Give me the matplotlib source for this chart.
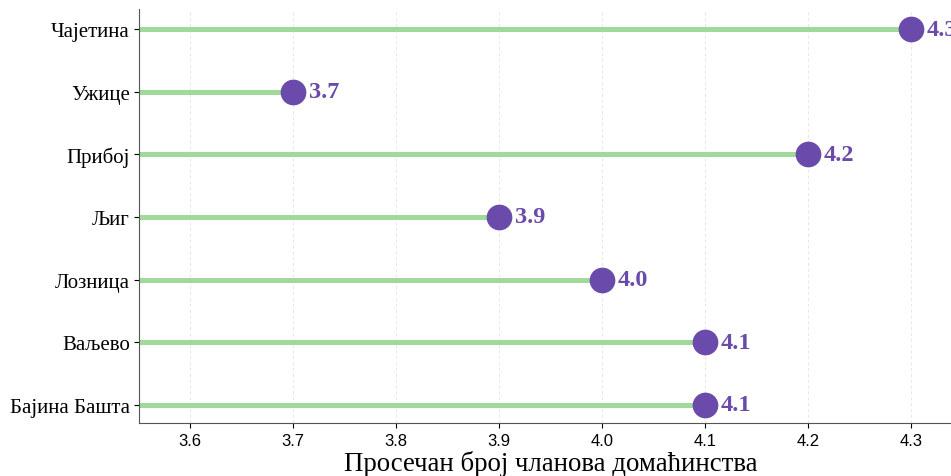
import matplotlib.pyplot as plt

towns = ["Бајина Башта", "Ваљево", "Лозница", "Љиг", "Прибој", "Ужице", "Чајетина"]
avg_members = [4.1, 4.1, 4.0, 3.9, 4.2, 3.7, 4.3]
xticks = [3.6, 3.7, 3.8, 3.9, 4.0, 4.1, 4.2, 4.3]

green = "#a1d99b"
purple = "#6a4aaa"

fig = plt.figure(figsize=(9.51, 4.77), dpi=100)
# the plot area runs a little past the right edge of the figure, as in the original
ax = fig.add_axes([0.1462, 0.1111, 0.8665, 0.868])

ypos = list(range(len(towns)))
ax.hlines(ypos, 0, avg_members, color=green, linewidth=3.6, zorder=2)
ax.plot(avg_members, ypos, "o", color=purple, markersize=17.5, zorder=3)

for v, y in zip(avg_members, ypos):
    ax.annotate(f"{v:.1f}", (v, y), xytext=(11.5, 0), textcoords="offset points",
                va="center", ha="left", color=purple, fontsize=17.5,
                fontweight="bold", family="Liberation Serif", clip_on=False)

ax.set_xlim(3.5505, 4.3505)
ax.set_ylim(-0.29, 6.32)
ax.set_xticks(xticks)
ax.set_xticklabels([f"{t:.1f}" for t in xticks], family="Liberation Sans", fontsize=12)
ax.set_yticks(ypos)
ax.set_yticklabels(towns, family="Liberation Serif", fontsize=15)
ax.tick_params(axis="x", pad=4)
ax.tick_params(axis="y", pad=3)
ax.grid(axis="x", linestyle=(0, (3, 3)), color="#e6e6e6", linewidth=0.7, zorder=0)
ax.set_axisbelow(True)

for s in ["top", "right"]:
    ax.spines[s].set_visible(False)
ax.spines["left"].set_color("#555555")
ax.spines["bottom"].set_color("#555555")

ax.set_xlabel("Просечан број чланова домаћинства", family="Liberation Serif",
              fontsize=19.4, labelpad=1)

fig.savefig("out.png", dpi=100)
